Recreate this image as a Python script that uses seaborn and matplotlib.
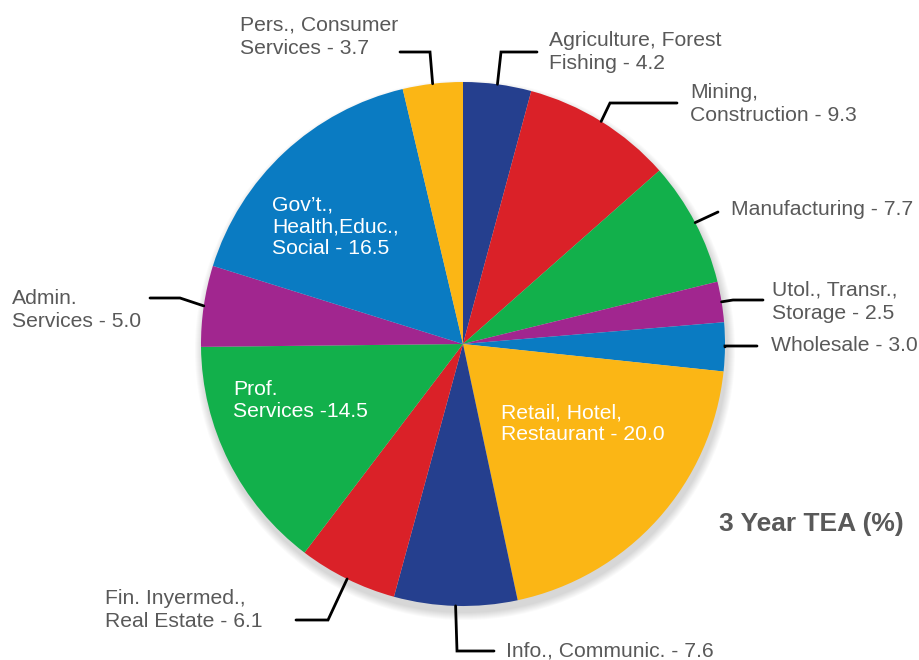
import numpy as np
import matplotlib.pyplot as plt
import seaborn as sns

sectors = ["Agriculture, Forest\nFishing", "Mining,\nConstruction", "Manufacturing",
           "Utol., Transr.,\nStorage", "Wholesale", "Retail, Hotel,\nRestaurant",
           "Info., Communic.", "Fin. Inyermed.,\nReal Estate", "Prof.\nServices",
           "Admin.\nServices", "Gov’t.,\nHealth,Educ.,\nSocial", "Pers., Consumer\nServices"]
tea = [4.2, 9.3, 7.7, 2.5, 3.0, 20.0, 7.6, 6.1, 14.5, 5.0, 16.5, 3.7]
seps = [" - ", " - ", " - ", " - ", " - ", " - ", " - ", " - ", " -", " - ", " - ", " - "]
colors = ["#253f8e", "#da2128", "#12b04b", "#a1268f", "#0a7bc2", "#fbb615",
          "#253f8e", "#da2128", "#12b04b", "#a1268f", "#0a7bc2", "#fbb615"]

sns.set_theme(style="white")
plt.rcParams["font.family"] = ["Liberation Sans", "DejaVu Sans"]

H = 660
def Y(y):
    return H - y

fig = plt.figure(figsize=(9.2, 6.6), dpi=100)
ax = fig.add_axes([0, 0, 1, 1])
ax.set_xlim(0, 920)
ax.set_ylim(0, H)

cx, cy, r = 463, Y(344), 262

# soft shadow under the pie
for k in range(8):
    ax.add_patch(plt.Circle((cx + 2, cy - 6), r + 8 - k, color="black", alpha=0.018, lw=0, zorder=0))

wedges, _ = ax.pie(tea, colors=colors, startangle=90, counterclock=False,
                   center=(cx, cy), radius=r, wedgeprops=dict(linewidth=0), normalize=True)
ax.set_xlim(0, 920)
ax.set_ylim(0, H)
ax.set_aspect("equal")
ax.axis("off")

# leader lines: (elbow, end of horizontal) in pixels, label anchor (x, y)
leaders = {
    0: ((501, 52), (537, 52), (549, 52)),
    1: ((610, 103), (677, 103), (690, 104)),
    2: ((718, 212), (718, 212), (731, 210)),
    3: ((733, 300), (763, 300), (772, 302)),
    4: ((725, 346), (757, 346), (771, 346)),
    6: ((457, 651), (494, 651), (506, 651)),
    7: ((328, 620), (296, 620), (105, 610)),
    9: ((180, 298), (150, 298), (12, 310)),
    11: ((430, 52), (400, 52), (240, 37)),
}
inside = {5: (501, 424), 8: (233, 401), 10: (272, 227)}

for i, w in enumerate(wedges):
    text = sectors[i] + seps[i] + f"{tea[i]:.1f}"
    if i in leaders:
        ang = np.deg2rad((w.theta1 + w.theta2) / 2)
        sx, sy = cx + r * np.cos(ang), cy + r * np.sin(ang)
        (ex, ey), (hx, hy), (tx, ty) = leaders[i]
        ax.plot([sx, ex, hx], [sy, Y(ey), Y(hy)], color="black", lw=2, solid_joinstyle="miter", zorder=3)
        ax.text(tx, Y(ty), text, ha="left", va="center", fontsize=15.2, color="#595959", linespacing=1.3)
    else:
        tx, ty = inside[i]
        ax.text(tx, Y(ty), text, ha="left", va="center", fontsize=15.2, color="white", linespacing=1.2)

ax.text(811, Y(524), "3 Year TEA (%)", ha="center", va="center", fontsize=19,
        fontweight="bold", color="#595959")

fig.savefig("out.png", dpi=100)
